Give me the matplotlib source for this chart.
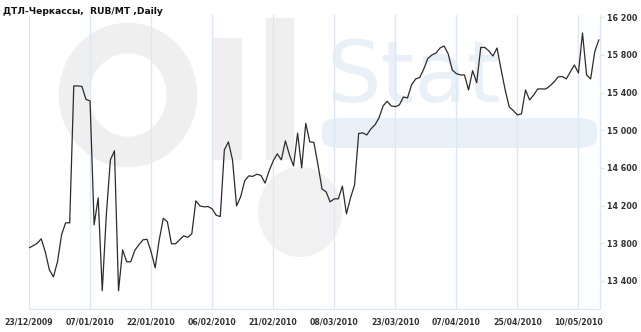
import matplotlib.pyplot as plt
from matplotlib.patches import Ellipse, Rectangle, FancyBboxPatch

title = 'ДТЛ-Черкассы,  RUB/MT ,Daily'

# daily prices, RUB/MT
prices = [
    13750, 13772, 13798, 13846, 13708, 13517, 13442, 13602, 13889, 14016,
    14016, 15471, 15471, 15466, 15328, 15312, 13995, 14281, 13294, 14101,
    14685, 14781, 13294, 13729, 13602, 13602, 13724, 13782, 13835, 13841,
    13708, 13538, 13835, 14064, 14027, 13793, 13793, 13835, 13878, 13862,
    13899, 14250, 14196, 14186, 14189, 14165, 14096, 14083, 14791, 14876,
    14685, 14196, 14292, 14462, 14515, 14510, 14533, 14520, 14438, 14568,
    14674, 14749, 14685, 14887, 14738, 14621, 14969, 14600, 15073, 14876,
    14871, 14632, 14377, 14345, 14239, 14271, 14271, 14406, 14112, 14281,
    14420, 14966, 14972, 14950, 15014, 15057, 15131, 15258, 15308, 15258,
    15251, 15269, 15354, 15343, 15482, 15545, 15561, 15651, 15763, 15800,
    15821, 15874, 15896, 15811, 15641, 15602, 15588, 15588, 15428, 15633,
    15506, 15880, 15880, 15843, 15789, 15874, 15646, 15428, 15248, 15209,
    15163, 15174, 15428, 15322, 15375, 15439, 15439, 15439, 15471, 15513,
    15566, 15572, 15545, 15620, 15694, 15609, 16034, 15588, 15545, 15832,
    15960,
]

date_labels = ['23/12/2009', '07/01/2010', '22/01/2010', '06/02/2010', '21/02/2010',
               '08/03/2010', '23/03/2010', '07/04/2010', '25/04/2010', '10/05/2010']
label_step = 15
y_ticks = [13400, 13800, 14200, 14600, 15000, 15400, 15800, 16200]

grid_col = '#dce8f3'
text_col = '#333333'
W, H = 641, 332

fig = plt.figure(figsize=(W / 100, H / 100), dpi=100)
ax = fig.add_axes([29 / W, 1 - 309 / H, 571 / W, 294 / H])


def px(x, y):
    # pixel (from top-left) -> figure fraction
    return x / W, 1 - y / H


# faint OilStat watermark behind the chart
wm_gray = '#efefef'
wm_blue = '#e9f0f8'
tf = fig.transFigure
ax.add_patch(Ellipse(px(128, 95), 108 / W, 114 / H, fill=False, lw=22,
                     edgecolor=wm_gray, transform=tf, zorder=0, clip_on=False))
ax.add_patch(Rectangle(px(212, 160), 30 / W, 122 / H, facecolor=wm_gray,
                       edgecolor='none', transform=tf, zorder=0, clip_on=False))
ax.add_patch(Rectangle(px(266, 160), 28 / W, 142 / H, facecolor=wm_gray,
                       edgecolor='none', transform=tf, zorder=0, clip_on=False))
ax.add_patch(Ellipse(px(300, 212), 84 / W, 90 / H, facecolor='#f1f1f1',
                     edgecolor='none', transform=tf, zorder=0, clip_on=False))
ax.add_patch(FancyBboxPatch(px(322, 148), 275 / W, 30 / H,
                            boxstyle='round,pad=0.0,rounding_size=0.03',
                            facecolor=wm_blue, edgecolor='none', transform=tf,
                            zorder=0, clip_on=False))
ax.text(*px(326, 102), 'Stat', transform=tf, fontsize=62, color=wm_blue,
        zorder=0)

ax.plot(range(len(prices)), prices, color='#2b2b2b', lw=0.9, zorder=3)

ax.set_xlim(0, 140.3)
ax.set_ylim(13100, 16225)

ax.set_xticks(range(0, label_step * len(date_labels), label_step))
ax.set_xticklabels(date_labels)
ax.grid(axis='x', color=grid_col, lw=1, zorder=1)
ax.set_axisbelow(True)
ax.tick_params(axis='x', length=0, pad=6, labelsize=5.6, labelcolor=text_col)

ax.yaxis.tick_right()
ax.set_yticks(y_ticks)
ax.set_yticklabels([f'{v:,}'.replace(',', ' ') for v in y_ticks])
ax.tick_params(axis='y', length=3, color=grid_col, pad=2, labelsize=5.8,
               labelcolor=text_col)
for lab in ax.get_xticklabels() + ax.get_yticklabels():
    lab.set_fontweight('bold')

for side in ['top', 'left']:
    ax.spines[side].set_visible(False)
for side in ['right', 'bottom']:
    ax.spines[side].set_color(grid_col)
    ax.spines[side].set_linewidth(1)

fig.text(3 / W, 1 - 11 / H, title, fontsize=6.6, fontweight='bold',
         color='#111111', va='center')

fig.savefig('out.png', dpi=100)
